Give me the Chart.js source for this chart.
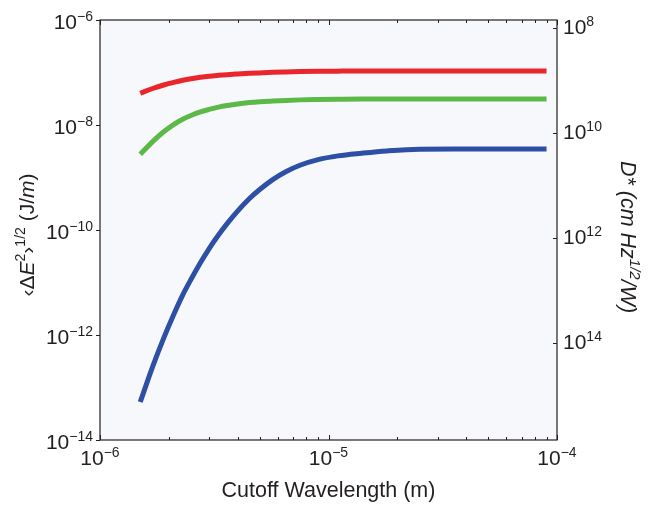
<!DOCTYPE html>
<html><head><meta charset="utf-8">
<script src="https://cdn.jsdelivr.net/npm/chart.js@4.4.1/dist/chart.umd.min.js"></script>
<style>html,body{margin:0;padding:0;background:#fff}#wrap{width:654px;height:507px}</style>
</head><body><div id="wrap"><canvas id="c" width="654" height="507"></canvas></div>
<script>
// Cutoff wavelength (m)
const wavelengths = [1.5e-6, 1.7e-6, 1.9e-6, 2.1e-6, 2.3e-6, 2.5e-6, 2.75e-6, 3e-6, 3.3e-6, 3.6e-6, 4e-6, 4.5e-6, 5e-6, 5.7e-6, 6.5e-6, 7.5e-6, 9e-6, 1.1e-5, 1.4e-5, 1.8e-5, 2.5e-5, 4e-5, 6e-5, 9e-5];
// <ΔE²>^1/2 (J/m)
const redValues   = [4.03e-8, 4.96e-8, 5.78e-8, 6.47e-8, 7.10e-8, 7.62e-8, 8.13e-8, 8.51e-8, 8.83e-8, 9.10e-8, 9.36e-8, 9.63e-8, 9.83e-8, 1.007e-7, 1.024e-7, 1.040e-7, 1.054e-7, 1.062e-7, 1.068e-7, 1.068e-7, 1.068e-7, 1.068e-7, 1.068e-7, 1.068e-7];
const greenValues = [2.77e-9, 4.83e-9, 7.42e-9, 1.02e-8, 1.29e-8, 1.52e-8, 1.78e-8, 1.98e-8, 2.19e-8, 2.35e-8, 2.52e-8, 2.67e-8, 2.77e-8, 2.86e-8, 2.94e-8, 3.01e-8, 3.06e-8, 3.10e-8, 3.13e-8, 3.13e-8, 3.13e-8, 3.13e-8, 3.13e-8, 3.13e-8];
const blueValues  = [5.30e-14, 2.50e-13, 8.73e-13, 2.43e-12, 5.75e-12, 1.14e-11, 2.37e-11, 4.39e-11, 8.0e-11, 1.32e-10, 2.29e-10, 3.94e-10, 5.90e-10, 9.12e-10, 1.29e-9, 1.71e-9, 2.19e-9, 2.58e-9, 2.90e-9, 3.21e-9, 3.46e-9, 3.48e-9, 3.49e-9, 3.49e-9];

// Tick values and labels ([base, exponent])
const xTickValues = [1e-6, 1e-5, 1e-4];
const xTickLabels = [['10', '−6'], ['10', '−5'], ['10', '−4']];
const yTickValues = [1e-14, 1e-12, 1e-10, 1e-8, 1e-6];
const yTickLabels = [['10', '−14'], ['10', '−12'], ['10', '−10'], ['10', '−8'], ['10', '−6']];
const dTickValues = [1e8, 1e10, 1e12, 1e14];
const dTickLabels = [['10', '8'], ['10', '10'], ['10', '12'], ['10', '14']];
const dRange = [6.95e7, 6.95e15];
const minorMultipliers = [2, 3, 4, 5, 6, 7, 8, 9];
const minorDecades = [1e-6, 1e-5];

const FAM = '"Liberation Sans", Arial, Helvetica, sans-serif';
const INK = '#231f20';
const TICK_SIZE = 21, TICK_SUP = 14;

function drawRich(ctx, parts, cx, cy, rot, size) {
  ctx.save();
  ctx.translate(cx, cy);
  ctx.rotate(rot);
  const fontFor = p => (p.i ? 'italic ' : '') + (p.s ? Math.round(size * 0.68) : size) + 'px ' + FAM;
  let w = 0;
  for (const p of parts) { ctx.font = fontFor(p); w += ctx.measureText(p.t).width; }
  let x = -w / 2;
  ctx.fillStyle = INK;
  ctx.textBaseline = 'alphabetic';
  ctx.textAlign = 'left';
  for (const p of parts) {
    ctx.font = fontFor(p);
    const base = size * 0.36;
    ctx.fillText(p.t, x, p.s ? base - size * 0.42 : base);
    x += ctx.measureText(p.t).width;
  }
  ctx.restore();
}

function drawPow(ctx, lab, ax, baseline, align) {
  ctx.save();
  ctx.fillStyle = INK;
  ctx.textBaseline = 'alphabetic';
  ctx.textAlign = 'left';
  ctx.font = TICK_SIZE + 'px ' + FAM;
  const w1 = ctx.measureText(lab[0]).width;
  ctx.font = TICK_SUP + 'px ' + FAM;
  const w2 = ctx.measureText(lab[1]).width;
  const w = w1 + w2;
  let x = align === 'right' ? ax - w : align === 'center' ? ax - w / 2 : ax;
  ctx.font = TICK_SIZE + 'px ' + FAM;
  ctx.fillText(lab[0], x, baseline);
  ctx.font = TICK_SUP + 'px ' + FAM;
  ctx.fillText(lab[1], x + w1, baseline - 8);
  ctx.restore();
}

const framePlugin = {
  id: 'frame',
  beforeDatasetsDraw(chart) {
    const { ctx, chartArea: a } = chart;
    ctx.save();
    ctx.fillStyle = '#f7f8fc';
    ctx.fillRect(a.left, a.top, a.right - a.left, a.bottom - a.top);
    ctx.restore();
  },
  afterDraw(chart) {
    const { ctx, chartArea: a, scales } = chart;
    ctx.save();
    ctx.strokeStyle = INK;
    ctx.lineWidth = 1.2;
    ctx.strokeRect(a.left, a.top, a.right - a.left, a.bottom - a.top);
    ctx.lineWidth = 1;
    ctx.beginPath();
    for (const d of minorDecades) {
      for (const m of minorMultipliers) {
        const px = Math.round(scales.x.getPixelForValue(m * d)) + 0.5;
        ctx.moveTo(px, a.bottom); ctx.lineTo(px, a.bottom - 3);
        ctx.moveTo(px, a.top); ctx.lineTo(px, a.top + 3);
      }
    }
    for (const v of xTickValues) {
      const px = Math.round(scales.x.getPixelForValue(v)) + 0.5;
      ctx.moveTo(px, a.bottom); ctx.lineTo(px, a.bottom - 5);
      ctx.moveTo(px, a.top); ctx.lineTo(px, a.top + 5);
    }
    for (const v of yTickValues) {
      const py = Math.round(scales.y.getPixelForValue(v)) + 0.5;
      ctx.moveTo(a.left - 4, py); ctx.lineTo(a.left, py);
    }
    for (const v of dTickValues) {
      const py = Math.round(scales.y2.getPixelForValue(v)) + 0.5;
      ctx.moveTo(a.right - 4, py); ctx.lineTo(a.right, py);
    }
    ctx.stroke();
    ctx.restore();

    // tick labels
    xTickValues.forEach((v, i) => drawPow(ctx, xTickLabels[i], scales.x.getPixelForValue(v), a.bottom + 25, 'center'));
    yTickValues.forEach((v, i) => drawPow(ctx, yTickLabels[i], a.left - 7, scales.y.getPixelForValue(v) + 8.5, 'right'));
    dTickValues.forEach((v, i) => drawPow(ctx, dTickLabels[i], a.right + 6, scales.y2.getPixelForValue(v) + 6, 'left'));

    // axis titles
    drawRich(ctx, [
      { t: '‹Δ' }, { t: 'E', i: true }, { t: '2', s: true }, { t: '›' }, { t: '1/2', s: true },
      { t: ' (J/' }, { t: 'm', i: true }, { t: ')' }
    ], 26, 235, -Math.PI / 2, 21);
    drawRich(ctx, [
      { t: 'D* (cm Hz', i: true }, { t: '1/2', s: true, i: true }, { t: '/W)', i: true }
    ], 629, 237, Math.PI / 2, 21.5);
  }
};

new Chart(document.getElementById('c'), {
  type: 'line',
  data: {
    datasets: [
      { label: 'red', data: wavelengths.map((x, i) => ({ x, y: redValues[i] })), borderColor: '#e8262b' },
      { label: 'green', data: wavelengths.map((x, i) => ({ x, y: greenValues[i] })), borderColor: '#5cb947' },
      { label: 'blue', data: wavelengths.map((x, i) => ({ x, y: blueValues[i] })), borderColor: '#2d50a4' }
    ].map(d => Object.assign(d, { borderWidth: 5, pointRadius: 0, fill: false, cubicInterpolationMode: 'monotone', yAxisID: 'y', borderCapStyle: 'butt' }))
  },
  options: {
    responsive: false,
    animation: false,
    devicePixelRatio: 1,
    layout: { padding: { top: 20, left: 0, right: 0, bottom: 0 } },
    plugins: { legend: { display: false }, tooltip: { enabled: false } },
    scales: {
      x: {
        type: 'logarithmic', position: 'bottom', min: 1e-6, max: 1e-4,
        grid: { display: false, drawTicks: false }, border: { display: false },
        afterBuildTicks: s => { s.ticks = xTickValues.map(v => ({ value: v })); },
        ticks: { display: false },
        title: { display: true, text: 'Cutoff Wavelength (m)', color: INK, font: { family: FAM, size: 21.5 }, padding: { top: 0, bottom: 3 } },
        afterFit: s => { s.height = 67; }
      },
      y: {
        type: 'logarithmic', position: 'left', min: 1e-14, max: 1e-6,
        grid: { display: false, drawTicks: false }, border: { display: false },
        afterBuildTicks: s => { s.ticks = yTickValues.map(v => ({ value: v })); },
        ticks: { display: false },
        afterFit: s => { s.width = 100; }
      },
      y2: {
        type: 'logarithmic', position: 'right', reverse: true, min: dRange[0], max: dRange[1],
        grid: { display: false, drawTicks: false }, border: { display: false },
        afterBuildTicks: s => { s.ticks = dTickValues.map(v => ({ value: v })); },
        ticks: { display: false },
        afterFit: s => { s.width = 97; }
      }
    }
  },
  plugins: [framePlugin]
});
</script>
</body></html>
